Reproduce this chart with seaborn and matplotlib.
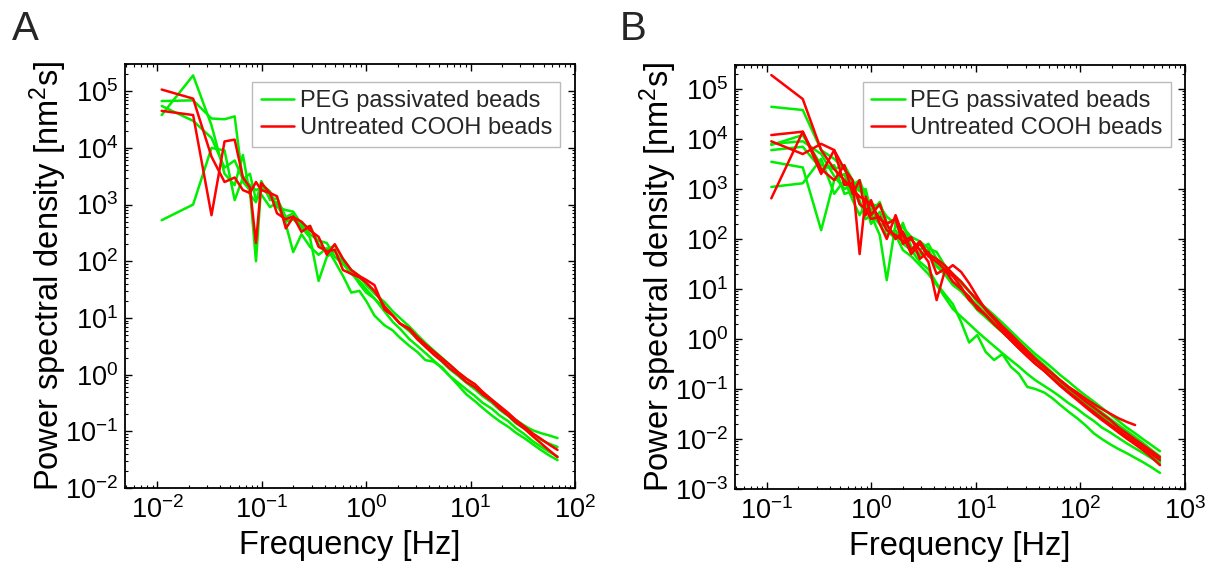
import numpy as np
import pandas as pd
import matplotlib
matplotlib.use("Agg")
import matplotlib.pyplot as plt
import seaborn as sns
from matplotlib.ticker import LogLocator, NullFormatter, LogFormatterSciNotation
from matplotlib.lines import Line2D

# ---------------- data: panel A ----------------
freq_A = [0.011, 0.022, 0.033, 0.044, 0.055, 0.066, 0.077, 0.088, 0.099,
          0.12, 0.14, 0.17, 0.20, 0.24, 0.29, 0.35, 0.42, 0.50,
          0.60, 0.72, 0.86, 1.0, 1.2, 1.5, 1.8, 2.1, 2.6,
          3.1, 3.7, 4.4, 5.3, 6.3, 7.6, 9.1, 11, 13,
          16, 19, 23, 27, 33, 39, 47, 56, 68]

A_peg_1 = [3.8e4, 1.9e5, 2.5e4, 3.5e3, 2.2e3, 7.5e3, 1.5e3, 1.1e3, 2.6e3,
           1.2e3, 1.3e3, 600, 700, 380, 420, 200, 160, 190,
           110, 70, 55, 38, 27, 19, 13, 10, 7,
           5, 3.6, 2.7, 2.0, 1.5, 1.1, 0.85, 0.64, 0.48,
           0.36, 0.27, 0.2, 0.16, 0.125, 0.105, 0.093, 0.085, 0.076]
A_peg_2 = [6.7e4, 6.9e4, 3.3e4, 3.2e4, 3.6e4, 2.5e3, 1.8e3, 100, 2.3e3,
           1.7e3, 900, 800, 750, 450, 300, 230, 210, 120,
           90, 60, 45, 32, 22, 15, 11, 8, 5.8,
           4.2, 3.1, 2.3, 1.7, 1.25, 0.95, 0.72, 0.55, 0.42,
           0.32, 0.24, 0.185, 0.14, 0.11, 0.087, 0.071, 0.061, 0.053]
A_peg_3 = [530, 1.0e3, 1.0e4, 9e3, 1.2e3, 3e3, 2.2e3, 1.8e3, 2.0e3,
           1.4e3, 1.0e3, 500, 550, 400, 260, 45, 120, 150,
           95, 65, 40, 28, 22, 13, 8.5, 6.5, 4.2,
           3.2, 2.4, 1.8, 1.3, 0.95, 0.72, 0.55, 0.42, 0.32,
           0.25, 0.19, 0.15, 0.115, 0.088, 0.068, 0.054, 0.044, 0.036]
A_peg_4 = [5.5e4, 3.0e4, 1.5e4, 4.5e3, 6e3, 2.8e3, 3.5e3, 1.2e3, 1.5e3,
           900, 1.1e3, 450, 145, 300, 180, 130, 170, 100,
           55, 28, 30, 20, 11, 7.4, 6, 4.5, 3.2,
           2.5, 1.8, 1.7, 1.35, 0.95, 0.65, 0.45, 0.34, 0.26,
           0.19, 0.15, 0.12, 0.095, 0.075, 0.06, 0.047, 0.038, 0.031]
A_cooh_1 = [1.07e5, 7.4e4, 7e3, 2.5e3, 3e3, 1.8e3, 1.6e3, 2.5e3, 1.8e3,
            1.6e3, 1.4e3, 380, 600, 500, 350, 270, 130, 200,
            110, 70, 55, 47, 38, 14, 11, 8, 6.5,
            4.6, 3.4, 2.6, 1.95, 1.5, 1.1, 0.85, 0.68, 0.5,
            0.36, 0.28, 0.21, 0.16, 0.12, 0.093, 0.074, 0.059, 0.047]
A_cooh_2 = [4.5e4, 3.8e4, 650, 1.3e4, 1.4e4, 3e3, 2e3, 210, 2.4e3,
            1.6e3, 700, 550, 620, 330, 420, 180, 150, 160,
            70, 60, 52, 42, 30, 16, 11, 8, 6.2,
            4.2, 3.1, 2.3, 1.75, 1.3, 1.0, 0.74, 0.6, 0.45,
            0.34, 0.25, 0.19, 0.145, 0.11, 0.083, 0.062, 0.047, 0.035]

# ---------------- data: panel B ----------------
freq_B = [0.11, 0.22, 0.33, 0.44, 0.55, 0.66, 0.77, 0.88, 0.99, 1.2, 1.4,
          1.7, 2.0, 2.4, 2.9, 3.5, 4.2, 5.0, 6.0, 7.2, 8.6, 10.3,
          12.4, 14.9, 17.9, 21.5, 25.8, 31, 37, 45, 54, 64, 77,
          93, 111, 134, 160, 193, 231, 277, 333, 400, 480, 576]

B_peg_1 = [4.4e4, 3.8e4, 6e3, 4e3, 2.5e3, 1.2e3, 1.5e3, 700, 500, 450, 280,
           200, 170, 110, 90, 65, 55, 30, 20, 14, 9, 6,
           4.2, 3.0, 2.1, 1.45, 1.0, 0.7, 0.5, 0.36, 0.26, 0.19, 0.14,
           0.1, 0.075, 0.056, 0.042, 0.031, 0.023, 0.017, 0.013, 0.0098, 0.0075, 0.0057]
B_peg_2 = [7.6e3, 1.2e4, 3e3, 2.5e3, 3e3, 1.5e3, 900, 1e3, 350, 550, 210,
           250, 130, 100, 60, 80, 40, 28, 20, 13, 9, 5.5,
           3.8, 2.6, 1.8, 1.25, 0.85, 0.6, 0.43, 0.3, 0.21, 0.15, 0.11,
           0.08, 0.06, 0.045, 0.034, 0.025, 0.019, 0.0145, 0.011, 0.0082, 0.006, 0.0045]
B_peg_3 = [3.5e3, 2.7e3, 150, 1.5e3, 2e3, 700, 1.2e3, 400, 300, 120, 15,
           200, 110, 70, 45, 60, 30, 22, 14, 10, 7, 4.6,
           3.2, 2.2, 1.55, 1.1, 0.75, 0.52, 0.37, 0.26, 0.19, 0.135, 0.098,
           0.072, 0.053, 0.039, 0.029, 0.021, 0.016, 0.012, 0.0092, 0.007, 0.0053, 0.004]
B_peg_4 = [1.1e3, 1.3e3, 4e3, 800, 1.5e3, 600, 300, 500, 200, 350, 150,
           100, 210, 70, 50, 60, 28, 20, 12, 9, 6, 3.8,
           2.7, 1.9, 1.35, 0.95, 0.65, 0.46, 0.33, 0.24, 0.17, 0.12, 0.088,
           0.064, 0.047, 0.035, 0.026, 0.019, 0.0145, 0.011, 0.0083, 0.0063, 0.0047, 0.0035]
B_peg_5 = [8e3, 9e3, 5e3, 1.8e3, 1e3, 1.2e3, 500, 350, 400, 200, 180,
           120, 60, 45, 30, 20, 12, 7, 4, 2.8, 2.0, 1.4,
           1.0, 0.72, 0.52, 0.38, 0.28, 0.2, 0.15, 0.115, 0.09, 0.07, 0.052,
           0.04, 0.03, 0.023, 0.017, 0.0135, 0.0105, 0.0082, 0.0065, 0.0052, 0.0041, 0.0032]
B_peg_6 = [6e3, 7e3, 2.5e3, 3e3, 800, 900, 600, 250, 300, 200, 120,
           150, 80, 60, 35, 25, 13, 8, 5, 2.2, 0.85, 1.2,
           0.55, 0.38, 0.5, 0.28, 0.2, 0.11, 0.1, 0.085, 0.065, 0.048, 0.035,
           0.026, 0.019, 0.013, 0.01, 0.0078, 0.0063, 0.0052, 0.0042, 0.0034, 0.0027, 0.0021]
B_cooh_1 = [1.9e5, 6.3e4, 6e3, 2.5e3, 1.5e3, 1e3, 700, 600, 500, 250, 200,
            100, 140, 60, 90, 50, 40, 30, 20, 14, 9, 6,
            4, 2.7, 1.8, 1.25, 0.85, 0.58, 0.4, 0.28, 0.2, 0.145, 0.105,
            0.077, 0.057, 0.043, 0.032, 0.024, 0.017, 0.013, 0.0098, 0.0075, 0.0057, 0.0043]
B_cooh_2 = [1.2e4, 1.4e4, 2e3, 6e3, 2.5e3, 1.5e3, 50, 700, 300, 500, 200,
            250, 80, 100, 60, 35, 6, 22, 30, 22, 13, 7,
            3.8, 2.5, 1.6, 1.1, 0.75, 0.52, 0.38, 0.27, 0.2, 0.15, 0.11,
            0.085, 0.065, 0.05, 0.04, 0.032, 0.026, 0.022, 0.019]
B_cooh_3 = [650, 1.4e4, 2.5e3, 1.5e3, 3e3, 800, 1.5e3, 300, 600, 200, 100,
            300, 120, 50, 80, 45, 35, 25, 18, 11, 6, 4.5,
            3.0, 2.0, 1.4, 0.95, 0.65, 0.45, 0.32, 0.23, 0.16, 0.115, 0.083,
            0.06, 0.044, 0.032, 0.024, 0.018, 0.0135, 0.0102, 0.0078, 0.0059, 0.0043, 0.003]
B_cooh_4 = [9e3, 5e3, 8e3, 6e3, 1.2e3, 1.3e3, 500, 400, 250, 280, 150,
            120, 90, 110, 40, 55, 20, 25, 14, 10, 7, 4,
            3.0, 2.0, 1.4, 0.95, 0.65, 0.45, 0.32, 0.23, 0.165, 0.12, 0.087,
            0.064, 0.047, 0.035, 0.026, 0.0195, 0.0148, 0.0113, 0.0087, 0.0067, 0.005, 0.0038]

legend_labels = ["PEG passivated beads", "Untreated COOH beads"]
panel_letters = ["A", "B"]
xlabel = "Frequency [Hz]"
ylabel = "Power spectral density [nm$^2$s]"

GREEN = "#00ee00"
RED = "#ff0000"


def long_frame(freq, peg, cooh):
    rows = []
    for i, vals in enumerate(peg):
        for f, p in zip(freq[:len(vals)], vals):
            rows.append(("peg%d" % i, legend_labels[0], f, p))
    for i, vals in enumerate(cooh):
        for f, p in zip(freq[:len(vals)], vals):
            rows.append(("cooh%d" % i, legend_labels[1], f, p))
    return pd.DataFrame(rows, columns=["trace", "group", "f", "P"])


df_A = long_frame(freq_A, [A_peg_1, A_peg_2, A_peg_3, A_peg_4], [A_cooh_1, A_cooh_2])
df_B = long_frame(freq_B, [B_peg_1, B_peg_2, B_peg_3, B_peg_4, B_peg_5, B_peg_6],
                  [B_cooh_1, B_cooh_2, B_cooh_3, B_cooh_4])

sns.set_theme(style="ticks")
plt.rcParams["font.family"] = ["Liberation Sans", "DejaVu Sans"]
plt.rcParams["mathtext.fontset"] = "custom"
plt.rcParams["mathtext.rm"] = "Liberation Sans"
plt.rcParams["mathtext.it"] = "Liberation Sans:italic"
plt.rcParams["mathtext.bf"] = "Liberation Sans:bold"
plt.rcParams["axes.unicode_minus"] = False

W, H = 1215, 568
fig = plt.figure(figsize=(W / 100, H / 100), dpi=100)
fig.patch.set_facecolor("white")
axA = fig.add_axes([125 / W, 1 - 488 / H, 450 / W, 424 / H])
axB = fig.add_axes([735 / W, 1 - 489 / H, 450 / W, 424 / H])

settings = [
    (axA, df_A, (10 ** -2.31, 100), (1e-2, 10 ** 5.48), (0.967, 0.958)),
    (axB, df_B, (10 ** -1.306, 1000), (1e-3, 10 ** 5.48), (0.969, 0.96)),
]

for ax, df, xl, yl, lg in settings:
    ax.set_xscale("log")
    ax.set_yscale("log")
    sns.lineplot(data=df[df["group"] == legend_labels[0]], x="f", y="P", units="trace",
                 estimator=None, sort=False, color=GREEN, lw=1.8, ax=ax, legend=False)
    sns.lineplot(data=df[df["group"] == legend_labels[1]], x="f", y="P", units="trace",
                 estimator=None, sort=False, color=RED, lw=1.8, ax=ax, legend=False)
    ax.set_xlim(*xl)
    ax.set_ylim(*yl)
    ax.xaxis.set_major_locator(LogLocator(base=10, numticks=20))
    ax.yaxis.set_major_locator(LogLocator(base=10, numticks=20))
    ax.xaxis.set_minor_locator(LogLocator(base=10, subs=np.arange(2, 10), numticks=20))
    ax.yaxis.set_minor_locator(LogLocator(base=10, subs=np.arange(2, 10), numticks=20))
    ax.xaxis.set_major_formatter(LogFormatterSciNotation())
    ax.yaxis.set_major_formatter(LogFormatterSciNotation())
    ax.xaxis.set_minor_formatter(NullFormatter())
    ax.yaxis.set_minor_formatter(NullFormatter())
    ax.tick_params(which="both", direction="in", top=True, right=True,
                   colors="black", labelsize=19.5)
    ax.tick_params(which="major", length=5, width=1.0)
    ax.tick_params(which="minor", length=2.5, width=0.8)
    ax.tick_params(axis="x", which="major", pad=6)
    ax.tick_params(axis="y", which="major", pad=5)
    for s in ax.spines.values():
        s.set_visible(True)
        s.set_color("black")
        s.set_linewidth(1.3)
    ax.set_xlabel(xlabel, fontsize=23.5, color="black")
    ax.set_ylabel(ylabel, fontsize=23.5, color="black")
    ax.xaxis.set_label_coords(0.5, -0.1)
    ax.yaxis.set_label_coords(-0.125, 0.5)
    handles = [Line2D([0], [0], color=GREEN, lw=1.8), Line2D([0], [0], color=RED, lw=1.8)]
    leg = ax.legend(handles, legend_labels, loc="upper right", bbox_to_anchor=lg,
                    borderaxespad=0, fontsize=17, frameon=True, fancybox=False,
                    handlelength=1.4, handletextpad=0.25, borderpad=0.35,
                    labelspacing=0.2)
    leg.get_frame().set_edgecolor("#aaaaaa")
    leg.get_frame().set_linewidth(1.0)

fig.text(12 / W, 1 - 10 / H, panel_letters[0], fontsize=29, va="top", ha="left")
fig.text(620 / W, 1 - 10 / H, panel_letters[1], fontsize=29, va="top", ha="left")

fig.savefig("out.png", dpi=100, facecolor="white")
